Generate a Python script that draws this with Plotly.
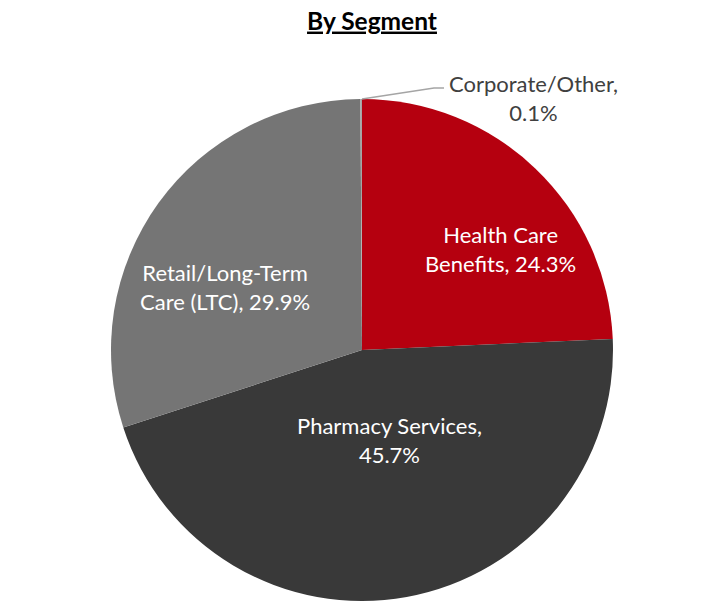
import plotly.graph_objects as go

segments = ["Health Care Benefits", "Pharmacy Services", "Retail/Long-Term Care (LTC)", "Corporate/Other"]
label_lines = [["Health Care", "Benefits, "], ["Pharmacy Services,", ""],
               ["Retail/Long-Term", "Care (LTC), "], ["Corporate/Other,", ""]]
shares = [24.3, 45.7, 29.9, 0.1]
colors = ["#B5000F", "#393939", "#757575", "#A5A5A5"]
text_colors = ["white", "white", "white", "#404040"]

W, H = 712, 607
cx, cy, r = 362, 350, 251
# label block centres (pixels)
label_pos = [(500, 249), (389, 440), (225, 287), (533, 98)]

fig = go.Figure(go.Pie(
    labels=segments,
    values=shares,
    textinfo="none",
    sort=False,
    direction="clockwise",
    rotation=0,
    marker=dict(colors=colors, line=dict(color="white", width=0)),
    showlegend=False,
    hoverinfo="label+percent",
    domain=dict(x=[(cx - r) / W, (cx + r) / W], y=[(H - cy - r) / H, (H - cy + r) / H]),
))

for lines, v, (px, py), tc in zip(label_lines, shares, label_pos, text_colors):
    txt = lines[0] + "<br>" + lines[1] + f"{v}%"
    fig.add_annotation(
        x=px / W, y=1 - py / H, xref="paper", yref="paper",
        text=txt, showarrow=False, xanchor="center", yanchor="middle", align="center",
        font=dict(family="Lato", size=22, color=tc),
    )

# leader line for the tiny Corporate/Other slice
top_x, top_y = cx / W, 1 - (cy - r) / H
fig.add_shape(type="path", xref="paper", yref="paper",
              path=f"M {top_x} {top_y} L {434 / W} {1 - 88 / H} L {444 / W} {1 - 88 / H}",
              line=dict(color="#A5A5A5", width=1.5))

fig.update_layout(
    width=W, height=H,
    margin=dict(l=0, r=0, t=0, b=0),
    paper_bgcolor="white", plot_bgcolor="white",
    title=dict(text="<b><u>By Segment</u></b>", x=372 / W, xanchor="center", y=1 - 21 / H, yanchor="middle",
               font=dict(family="Lato", size=24.5, color="black")),
)

fig.write_html("out.html", config={"displayModeBar": False},
               post_script="document.body.style.margin='0';")
